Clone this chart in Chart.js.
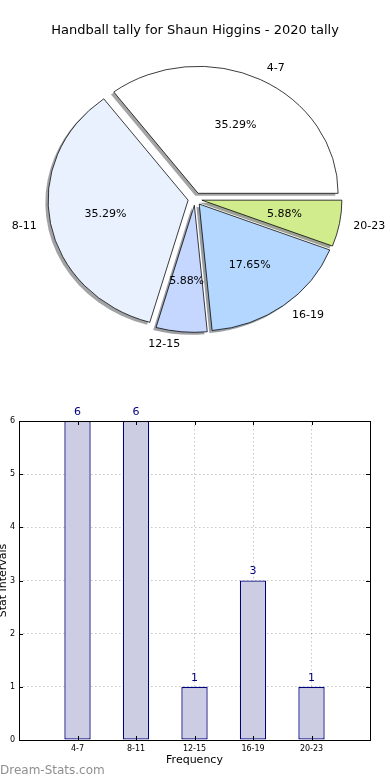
<!DOCTYPE html>
<html><head><meta charset="utf-8">
<script src="https://cdn.jsdelivr.net/npm/chart.js@4"></script>
<style>
html,body{margin:0;padding:0;background:#fff;width:390px;height:780px;overflow:hidden;position:relative;font-family:"DejaVu Sans",sans-serif}
#pie{position:absolute;left:0;top:0}
#bar{position:absolute;left:-3px;top:395px}
#wm{position:absolute;left:0;top:762px;font:12px "DejaVu Sans",sans-serif;color:#8f8f8f;line-height:16px}
</style></head><body>
<canvas id="pie" width="390" height="392"></canvas>
<canvas id="bar" width="393" height="385"></canvas>
<div id="wm">Dream-Stats.com</div>
<script>
// ---- data ----
const chartTitle = 'Handball tally for Shaun Higgins - 2020 tally';
const categories = ['4-7', '8-11', '12-15', '16-19', '20-23'];
const counts = [6, 6, 1, 3, 1];
const yTicks = [0, 1, 2, 3, 4, 5, 6];
const xAxisTitle = 'Frequency';
const yAxisTitle = 'Stat Intervals';
const watermark = 'Dream-Stats.com';

// ---- styles ----
const FONT = '"DejaVu Sans", sans-serif';
const pieColors = ['#ffffff', '#eaf1fe', '#c5d6ff', '#b4d7ff', '#d0ec8c'];
const PIE_KY = 127 / 140;        // vertical squash (non-equal aspect)
const EXPLODE = 7;               // px, 0.05 of radius
const SHADOW = [-2.8, 2.5];      // shadow offset

document.getElementById('wm').textContent = watermark;

const total = counts.reduce((a, b) => a + b, 0);

function wedgeTransform(ctx, el) {
  const mid = (el.startAngle + el.endAngle) / 2;
  ctx.translate(el.x, el.y);
  ctx.scale(1, PIE_KY);
  ctx.translate(Math.cos(mid) * EXPLODE, Math.sin(mid) * EXPLODE);
  ctx.translate(-el.x, -el.y);
}
function shade(hex) {
  const n = parseInt(hex.slice(1), 16);
  const r = ((n >> 16) & 255) * 0.3, g = ((n >> 8) & 255) * 0.3, b = (n & 255) * 0.3;
  return `rgba(${r|0},${g|0},${b|0},0.5)`;
}

const piePlugin = {
  id: 'piePlugin',
  afterUpdate(chart) {
    chart.getDatasetMeta(0).data.forEach(el => {
      if (el._wrapped) return;
      el._wrapped = true;
      const proto = Object.getPrototypeOf(el);
      el.draw = function (ctx) {
        ctx.save();
        wedgeTransform(ctx, this);
        proto.draw.call(this, ctx);
        ctx.restore();
      };
    });
  },
  beforeDatasetsDraw(chart) {
    const ctx = chart.ctx;
    const ds = chart.data.datasets[0];
    chart.getDatasetMeta(0).data.forEach((el, i) => {
      ctx.save();
      ctx.translate(SHADOW[0], SHADOW[1]);
      wedgeTransform(ctx, el);
      ctx.beginPath();
      ctx.moveTo(el.x, el.y);
      ctx.arc(el.x, el.y, el.outerRadius, el.startAngle, el.endAngle);
      ctx.closePath();
      ctx.fillStyle = shade(ds.backgroundColor[i]);
      ctx.fill();
      ctx.restore();
    });
  },
  afterDatasetsDraw(chart) {
    const ctx = chart.ctx;
    const ds = chart.data.datasets[0];
    ctx.save();
    ctx.font = '11px ' + FONT;
    ctx.fillStyle = '#000';
    ctx.textBaseline = 'middle';
    chart.getDatasetMeta(0).data.forEach((el, i) => {
      const mid = (el.startAngle + el.endAngle) / 2;
      const R = el.outerRadius;
      const c = Math.cos(mid), s = Math.sin(mid);
      const lx = el.x + c * (EXPLODE + 1.1 * R);
      const ly = el.y + s * (EXPLODE + 1.1 * R) * PIE_KY;
      ctx.textAlign = (lx > el.x) ? 'left' : 'right';
      ctx.fillText(chart.data.labels[i], lx, ly);
      const px = el.x + c * (EXPLODE + 0.6 * R);
      const py = el.y + s * (EXPLODE + 0.6 * R) * PIE_KY;
      ctx.textAlign = 'center';
      ctx.fillText((ds.data[i] / total * 100).toFixed(2) + '%', px, py);
    });
    ctx.restore();
  }
};

new Chart(document.getElementById('pie'), {
  type: 'pie',
  data: {
    labels: categories.slice().reverse(),
    datasets: [{
      data: counts.slice().reverse(),
      backgroundColor: pieColors.slice().reverse(),
      borderColor: '#000',
      borderWidth: 0.8,
      borderJoinStyle: 'miter',
      offset: 0,
      hoverOffset: 0
    }]
  },
  options: {
    responsive: false, animation: false, events: [],
    rotation: 90, radius: 140,
    layout: { padding: { top: 0, bottom: 32.6, left: 0, right: 0 } },
    plugins: {
      legend: { display: false },
      tooltip: { enabled: false },
      title: { display: true, text: chartTitle, color: '#000',
               font: { size: 13, family: FONT, weight: 'normal' },
               padding: { top: 23, bottom: 0 } }
    }
  },
  plugins: [piePlugin]
});

// ---- bar chart ----
const barPlugin = {
  id: 'barPlugin',
  afterDraw(chart) {
    const ctx = chart.ctx;
    const a = chart.chartArea;
    const xs = chart.scales.x, ys = chart.scales.y;
    ctx.save();
    ctx.strokeStyle = '#000';
    ctx.lineWidth = 1;
    ctx.beginPath();
    yTicks.forEach(v => {
      const y = Math.round(ys.getPixelForValue(v)) + 0.5;
      ctx.moveTo(a.left, y); ctx.lineTo(a.left + 4, y);
      ctx.moveTo(a.right, y); ctx.lineTo(a.right - 4, y);
    });
    categories.forEach((c, i) => {
      const x = Math.round(xs.getPixelForValue(i)) + 0.5;
      ctx.moveTo(x, a.top); ctx.lineTo(x, a.top + 4);
      ctx.moveTo(x, a.bottom); ctx.lineTo(x, a.bottom - 4);
    });
    ctx.stroke();
    ctx.strokeRect(Math.round(a.left) + 0.5, Math.round(a.top) + 0.5,
                   Math.round(a.right - a.left), Math.round(a.bottom - a.top));
    ctx.font = '11px ' + FONT;
    ctx.fillStyle = '#00007f';
    ctx.textAlign = 'center';
    ctx.textBaseline = 'middle';
    chart.getDatasetMeta(0).data.forEach((bar, i) => {
      ctx.fillText(String(counts[i]), bar.x, bar.y - 9);
    });
    ctx.restore();
  }
};

const gridStyle = { color: 'rgba(0,0,0,0.22)', lineWidth: 1, drawTicks: false, offset: false, borderDash: [1.5, 2.5] };

new Chart(document.getElementById('bar'), {
  type: 'bar',
  data: {
    datasets: [{
      data: categories.map((c, i) => ({ x: i, y: counts[i] })),
      backgroundColor: '#ccccE3',
      borderColor: '#00007f',
      borderWidth: 1.3,
      borderSkipped: false,
      categoryPercentage: 1,
      barPercentage: 0.45
    }]
  },
  options: {
    responsive: false, animation: false, events: [],
    layout: { padding: { top: 26, right: 20, bottom: 0, left: 0 } },
    plugins: { legend: { display: false }, tooltip: { enabled: false } },
    scales: {
      x: {
        type: 'linear', min: -1, max: 5, offset: false, z: 1,
        grid: gridStyle,
        border: { display: false, dash: [1.5, 2.5] },
        afterBuildTicks: s => { s.ticks = categories.map((c, i) => ({ value: i })); },
        ticks: { padding: 4, color: '#000', maxRotation: 0, autoSkip: false,
                 font: { size: 8, family: FONT },
                 callback: v => categories[v] ?? '' },
        title: { display: true, text: xAxisTitle, color: '#000',
                 font: { size: 11, family: FONT }, padding: { top: 0, bottom: 13 } },
        afterFit: s => { s.height = 40; }
      },
      y: {
        min: 0, max: 6, z: 1,
        grid: gridStyle,
        border: { display: false, dash: [1.5, 2.5] },
        afterBuildTicks: s => { s.ticks = yTicks.map(v => ({ value: v })); },
        ticks: { padding: 4, color: '#000', font: { size: 8, family: FONT } },
        title: { display: true, text: yAxisTitle, color: '#000',
                 font: { size: 11, family: FONT }, padding: 0 },
        afterFit: s => { s.width = 22; }
      }
    }
  },
  plugins: [barPlugin]
});
</script>
</body></html>
